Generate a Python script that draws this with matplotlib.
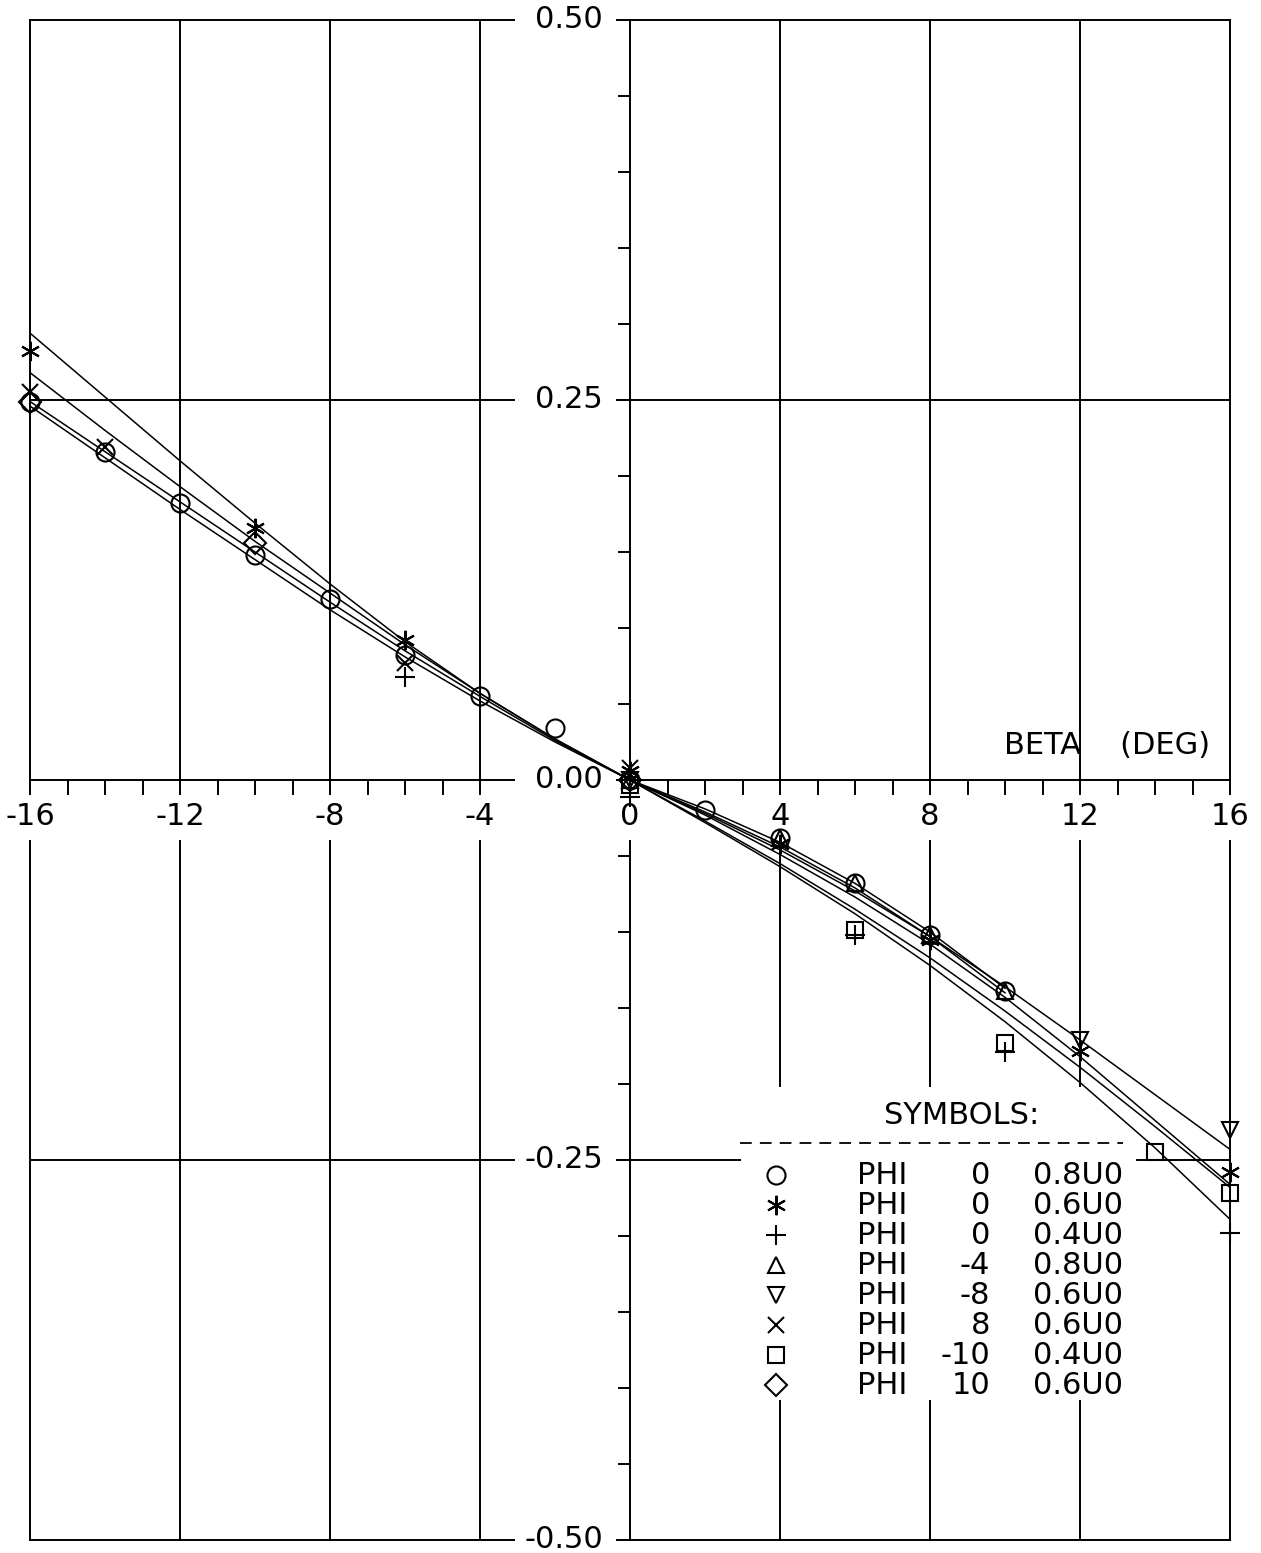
import numpy as np
import matplotlib
matplotlib.use('Agg')
import matplotlib.pyplot as plt
from matplotlib.patches import Rectangle

plt.rcParams['font.family'] = ['DejaVu Sans']

# Data points (BETA in deg, coefficient)
circ_x = [-16, -14, -12, -10, -8, -6, -4, -2, 0, 2, 4, 6, 8, 10]
circ_y = [0.249, 0.216, 0.182, 0.148, 0.119, 0.082, 0.055, 0.034, 0.0, -0.020, -0.038, -0.068, -0.102, -0.139]

star_x = [-16, -10, -6, 0, 4, 8, 12, 16]
star_y = [0.282, 0.166, 0.092, 0.006, -0.042, -0.105, -0.178, -0.258]

plus_x = [-6, 0, 6, 10, 16]
plus_y = [0.068, -0.011, -0.102, -0.179, -0.298]

triu_x = [0, 4, 6, 8, 10]
triu_y = [0.0, -0.038, -0.068, -0.102, -0.139]

trid_x = [0, 12, 16]
trid_y = [0.0, -0.171, -0.230]

ex_x = [-16, -14, -6, 0]
ex_y = [0.255, 0.219, 0.077, 0.008]

sq_x = [0, 6, 10, 14, 16]
sq_y = [-0.003, -0.099, -0.173, -0.245, -0.272]

dia_x = [-16, -10, 0]
dia_y = [0.249, 0.156, 0.0]

# Fitted curves, every 2 deg
curve_x = [-16, -14, -12, -10, -8, -6, -4, -2, 0, 2, 4, 6, 8, 10, 12, 14, 16]
circ_curve = [0.249, 0.216, 0.183, 0.150, 0.117, 0.085, 0.055, 0.026, 0.0, -0.019, -0.041, -0.068, -0.100, -0.137]
star_curve = [0.294, 0.252, 0.210, 0.169, 0.129, 0.091, 0.057, 0.027, 0.0, -0.023, -0.049, -0.077, -0.108, -0.143, -0.182, -0.224, -0.266]
ex_curve = [0.268, 0.230, 0.193, 0.157, 0.123, 0.089, 0.057, 0.027, 0.0]
dia_curve = [0.246, 0.212, 0.178, 0.145, 0.112, 0.081, 0.052, 0.025, 0.0]
triu_curve = [0.0, -0.021, -0.044, -0.071, -0.103, -0.140]
trid_curve = [0.0, -0.022, -0.046, -0.073, -0.103, -0.136, -0.171, -0.207, -0.243]
sq_curve = [0.0, -0.027, -0.055, -0.085, -0.117, -0.152, -0.189, -0.228, -0.268]
plus_curve = [0.0, -0.028, -0.057, -0.088, -0.122, -0.159, -0.199, -0.242, -0.289]

# Legend
legend_labels = ['0.8U0', '0.6U0', '0.4U0', '0.8U0', '0.6U0', '0.6U0', '0.4U0', '0.6U0']
legend_phi = ['0', '0', '0', '-4', '-8', '8', '-10', '10']

x_ticks = [-16, -12, -8, -4, 0, 4, 8, 12, 16]
y_ticks = [0.50, 0.25, 0.00, -0.25, -0.50]
y_tick_labels = ['0.50', '0.25', '0.00', '-0.25', '-0.50']

FS = 22
LW_GRID = 1.4
LW_DATA = 1.1

fig = plt.figure(figsize=(12.61, 15.53), dpi=100)
ax = fig.add_axes([30 / 1261, 13 / 1553, 1200 / 1261, 1520 / 1553])
ax.set_xlim(-16, 16)
ax.set_ylim(-0.5, 0.5)
ax.axis('off')

# grid / frame, broken where the tick labels sit
for y in y_ticks:
    ax.plot([-16, -3.1], [y, y], color='black', lw=LW_GRID, zorder=1, clip_on=False)
    ax.plot([-0.35, 16], [y, y], color='black', lw=LW_GRID, zorder=1, clip_on=False)
for x in x_ticks:
    ax.plot([x, x], [0.5, -0.009], color='black', lw=LW_GRID, zorder=1, clip_on=False)
    ax.plot([x, x], [-0.040, -0.5], color='black', lw=LW_GRID, zorder=1, clip_on=False)

# minor ticks on the beta axis (none under the 0.00 label)
for x in range(-15, 16):
    if x % 4 != 0 and (x < -3 or x > 0):
        ax.plot([x, x], [0, -0.009], color='black', lw=LW_GRID, zorder=1)
# ticks on the vertical axis
for y in np.arange(-0.5, 0.501, 0.05):
    ax.plot([-0.3, 0], [y, y], color='black', lw=LW_GRID, zorder=1)

# tick labels
for x in x_ticks:
    ax.text(x, -0.024, str(x), fontsize=FS, ha='center', va='center', zorder=4)
for y, lab in zip(y_ticks, y_tick_labels):
    ax.text(-0.72, y, lab, fontsize=FS, ha='right', va='center', zorder=4)

ax.text(15.47, 0.023, 'BETA    (DEG)', fontsize=FS, ha='right', va='center', zorder=4)

# blank area behind the symbol table
ax.add_patch(Rectangle((2.95, -0.408), 13.5 - 2.95, 0.206, facecolor='white',
                       edgecolor='none', zorder=2))

# curves
ax.plot(curve_x[:14], circ_curve, color='black', lw=LW_DATA, zorder=3)
ax.plot(curve_x, star_curve, color='black', lw=LW_DATA, zorder=3)
ax.plot(curve_x[:9], ex_curve, color='black', lw=LW_DATA, zorder=3)
ax.plot(curve_x[:9], dia_curve, color='black', lw=LW_DATA, zorder=3)
ax.plot(curve_x[8:14], triu_curve, color='black', lw=LW_DATA, zorder=3)
ax.plot(curve_x[8:], trid_curve, color='black', lw=LW_DATA, zorder=3, clip_on=False)
ax.plot(curve_x[8:], sq_curve, color='black', lw=LW_DATA, zorder=3, clip_on=False)
ax.plot(curve_x[8:], plus_curve, color='black', lw=LW_DATA, zorder=3, clip_on=False)

# symbols
markers = [
    (circ_x, circ_y, 'o', 13),
    (star_x, star_y, (6, 2, 0), 14),
    (plus_x, plus_y, '+', 14),
    (triu_x, triu_y, '^', 11),
    (trid_x, trid_y, 'v', 11),
    (ex_x, ex_y, 'x', 12),
    (sq_x, sq_y, 's', 11),
    (dia_x, dia_y, 'D', 11),
]
for xs, ys, m, ms in markers:
    ax.plot(xs, ys, linestyle='none', marker=m, ms=ms, mfc='none', mec='black',
            mew=1.5, zorder=3, clip_on=False)

# symbol table
ax.text(8.83, -0.2204, 'SYMBOLS:', fontsize=FS, ha='center', va='center', zorder=4)
ax.plot([2.93, 13.15], [-0.2388, -0.2388], color='black', lw=1.3,
        linestyle=(0, (6.5, 4.5)), zorder=4)
row0 = -0.2599
dy = 0.01974
for i, (m, phi, lab) in enumerate(zip(markers, legend_phi, legend_labels)):
    yy = row0 - i * dy
    ax.plot([3.9], [yy], linestyle='none', marker=m[2], ms=m[3], mfc='none',
            mec='black', mew=1.5, zorder=4)
    ax.text(6.05, yy, 'PHI', fontsize=FS, ha='left', va='center', zorder=4)
    ax.text(9.6, yy, phi, fontsize=FS, ha='right', va='center', zorder=4)
    ax.text(10.75, yy, lab, fontsize=FS, ha='left', va='center', zorder=4)

plt.savefig('out.png', dpi=100, facecolor='white')
